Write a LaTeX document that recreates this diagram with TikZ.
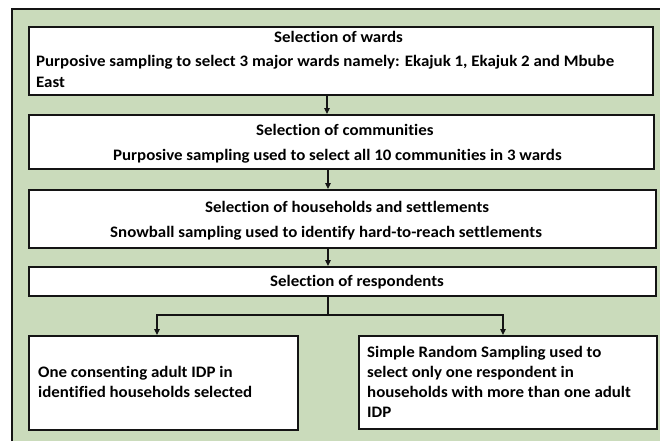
\documentclass[tikz,border=0pt]{standalone}
\usepackage{fontspec}
\setmainfont{Carlito}[FakeStretch=1.055, Ligatures={NoCommon}]
\usetikzlibrary{arrows.meta}
\definecolor{bggreen}{RGB}{202,219,187}
\definecolor{edge}{RGB}{20,20,20}
\begin{document}
\begin{tikzpicture}[x=1pt,y=-1pt,
  box/.style={draw=edge, line width=1.8pt, fill=white, inner sep=0pt, anchor=north west},
  txt/.style={anchor=base west, inner sep=0pt, font=\fontsize{16}{20}\selectfont\bfseries},
  arr/.style={draw=edge, line width=1.2pt, -{Triangle[length=6pt,width=5.5pt]}},
  conn/.style={draw=edge, line width=1.2pt}]
\useasboundingbox (0,0) rectangle (660,441);
\fill[bggreen] (12,9) rectangle (660,441);
\draw[edge, line width=1.5pt] (12,441) -- (12,9) -- (660,9);

\node[box, minimum width=624pt, minimum height=68pt] (b1) at (28,26) {};
\node[box, minimum width=625pt, minimum height=54pt] (b2) at (28,114) {};
\node[box, minimum width=627pt, minimum height=58pt] (b3) at (28,189) {};
\node[box, minimum width=627pt, minimum height=29pt] (b4) at (28,266) {};
\node[box, minimum width=269pt, minimum height=94pt] (b5) at (28,335) {};
\node[box, minimum width=298pt, minimum height=93pt] (b6) at (358,335) {};

\node[txt] (t1) at (274,43) {Selection of wards};
\node[txt] (l1a) at (36,67) {Purposive sampling to select 3 major wards namely: Ekajuk 1, Ekajuk 2 and Mbube};
\node[txt] (l1b) at (36,88) {East};
\node[txt] (t2) at (256,135) {Selection of communities};
\node[txt] (l2) at (113,160) {Purposive sampling used to select all 10 communities in 3 wards};
\node[txt] (t3) at (205,212) {Selection of households and settlements};
\node[txt] (l3) at (110,237) {Snowball sampling used to identify hard-to-reach settlements};
\node[txt] (t4) at (270,286) {Selection of respondents};
\node[txt] (l5a) at (38,377) {One consenting adult IDP in};
\node[txt] (l5b) at (38,397) {identified households selected};
\node[txt] (l6a) at (367,357) {Simple Random Sampling used to};
\node[txt] (l6b) at (367,377) {select only one respondent in};
\node[txt] (l6c) at (367,397) {households with more than one adult};
\node[txt] (l6d) at (367,417) {IDP};

\coordinate (xa) at (327,0);
\coordinate (xb) at (328,0);
\coordinate (split) at (328,315);
\coordinate (xl) at (157,0);
\coordinate (xr) at (503,0);

\draw[arr] (b1.south -| xa) -- (b2.north -| xa);
\draw[arr] (b2.south -| xb) -- (b3.north -| xb);
\draw[arr] (b3.south -| xb) -- (b4.north -| xb);
\draw[conn] (b4.south -| split) -- (split);
\draw[arr] (split) -| (b5.north -| xl);
\draw[arr] (split) -| (b6.north -| xr);
\end{tikzpicture}
\end{document}
